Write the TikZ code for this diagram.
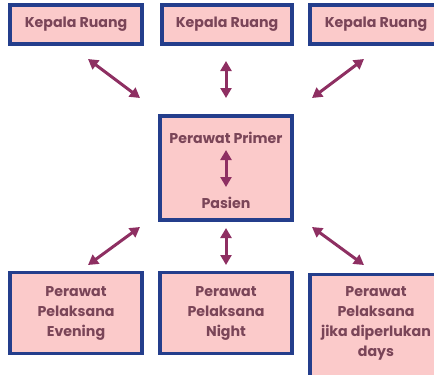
\documentclass[tikz,border=0pt]{standalone}
\usepackage{fontspec}
\setmainfont{Poppins}
\usetikzlibrary{arrows.meta}
\definecolor{boxfill}{HTML}{FBCACA}
\definecolor{boxline}{HTML}{243E8C}
\definecolor{txt}{HTML}{7A4558}
\definecolor{arr}{HTML}{8E2F62}
\begin{document}
\begin{tikzpicture}[x=1pt,y=-1pt,
  box/.style={draw=boxline,line width=3.4pt,fill=boxfill,text=txt,
    font=\fontsize{14.2}{20}\selectfont\bfseries,align=center,inner sep=0pt},
  big/.style={font=\fontsize{14.2}{20}\selectfont\bfseries},
  link/.style={draw=arr,line width=3pt,{Triangle[width=11pt,length=10pt]}-{Triangle[width=11pt,length=10pt]}}]
\useasboundingbox (0,0) rectangle (434,375);
\node[box,minimum width=132pt,minimum height=39pt] (k1) at (76,24.5) {Kepala Ruang};
\node[box,minimum width=130pt,minimum height=39pt] (k2) at (227,24.5) {Kepala Ruang};
\node[box,minimum width=132pt,minimum height=39pt] (k3) at (376,24.5) {Kepala Ruang};
\node[box,minimum width=132pt,minimum height=104pt] (c) at (226,168) {};
\node[text=txt,big] (pp) at (226,138) {Perawat Primer};
\node[text=txt,big] (ps) at (226,203) {Pasien};
\node[box,minimum width=132pt,minimum height=81pt] (b1) at (76,313) {Perawat\\Pelaksana\\Evening};
\node[box,minimum width=132pt,minimum height=81pt] (b2) at (226,313) {Perawat\\Pelaksana\\Night};
\node[box,minimum width=132pt,minimum height=110pt,anchor=north] (b3) at (376,273) {};
\node[text=txt,big,align=center,inner sep=0pt] (b3t) at (376,323) {Perawat\\Pelaksana\\jika diperlukan\\days};
\coordinate (a1s) at (88,59); \coordinate (a1e) at (140,98);
\coordinate (a2s) at (226,61); \coordinate (a2e) at (226,98);
\coordinate (a3s) at (364,59); \coordinate (a3e) at (312,98);
\coordinate (a4s) at (140,227); \coordinate (a4e) at (88,265);
\coordinate (a5s) at (226,228); \coordinate (a5e) at (226,265);
\coordinate (a6s) at (312,227); \coordinate (a6e) at (364,265);
\coordinate (a7s) at (226,150); \coordinate (a7e) at (226,187);
\foreach \i in {1,...,7} {\draw[link] (a\i s) -- (a\i e);}
\end{tikzpicture}
\end{document}
